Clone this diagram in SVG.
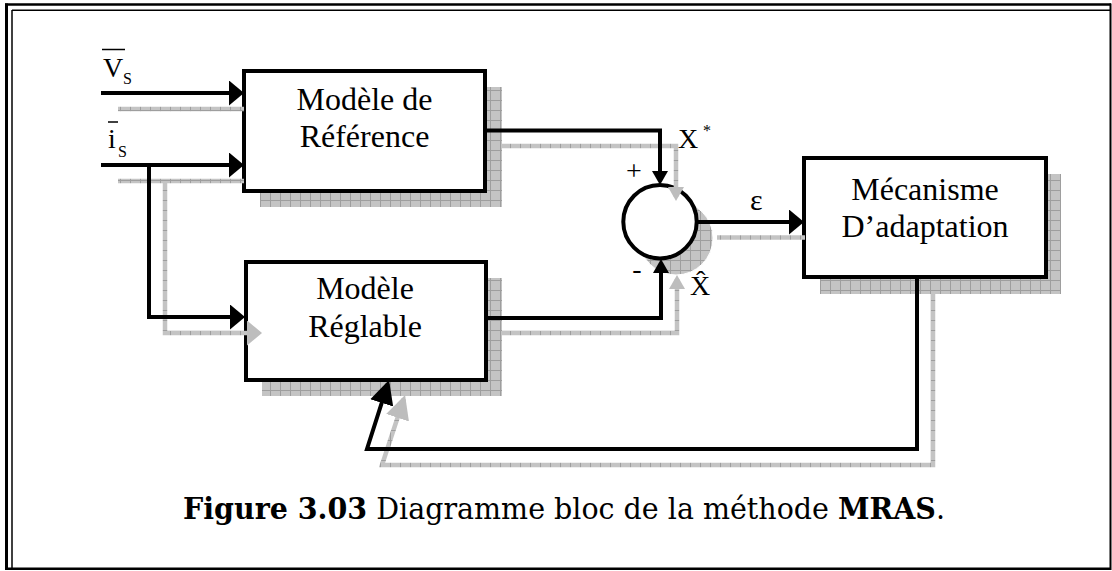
<svg xmlns="http://www.w3.org/2000/svg" width="1112" height="571" viewBox="0 0 1112 571">
<style>
.box{fill:#fff;stroke:#000;stroke-width:4}
.shadow{fill:url(#hatch)}
.lbl{font-family:"Liberation Serif","Times New Roman",serif;font-size:32px;fill:#000}
.sym{font-family:"Liberation Serif","Times New Roman",serif;fill:#000}
.blk{fill:none;stroke:#000;stroke-width:4;stroke-linejoin:miter}
.gry{fill:none;stroke:url(#hatch);stroke-width:4.5}
.cap{font-family:"DejaVu Serif",Georgia,serif;font-size:30px;fill:#000}
</style>
<defs>
<pattern id="hatch" patternUnits="userSpaceOnUse" width="10" height="10">
<rect width="10" height="10" fill="#c4c4c4"/>
<path d="M0,0.5 H10 M0.5,0 V10" stroke="#9e9e9e" stroke-width="1"/>
</pattern>
<marker id="ahL" markerUnits="userSpaceOnUse" viewBox="0 0 16 26" markerWidth="16" markerHeight="26" refX="11" refY="12.5" orient="auto"><path d="M0,0 L15,12.5 L0,25 Z" fill="#000"/></marker>
<marker id="ahS" markerUnits="userSpaceOnUse" viewBox="0 0 15 17" markerWidth="15" markerHeight="17" refX="10" refY="8" orient="auto"><path d="M0,0 L14,8 L0,16 Z" fill="#000"/></marker>
<marker id="ahF" markerUnits="userSpaceOnUse" viewBox="0 0 25 25" markerWidth="25" markerHeight="25" refX="20" refY="12" orient="auto"><path d="M0,0 L24,12 L0,24 Z" fill="#000"/></marker>
<marker id="ghL" markerUnits="userSpaceOnUse" viewBox="0 0 16 26" markerWidth="16" markerHeight="26" refX="11" refY="12.5" orient="auto"><path d="M0,0 L15,12.5 L0,25 Z" fill="#bdbdbd"/></marker>
<marker id="ghS" markerUnits="userSpaceOnUse" viewBox="0 0 15 17" markerWidth="15" markerHeight="17" refX="10" refY="8" orient="auto"><path d="M0,0 L14,8 L0,16 Z" fill="#bdbdbd"/></marker>
<marker id="ghF" markerUnits="userSpaceOnUse" viewBox="0 0 25 25" markerWidth="25" markerHeight="25" refX="20" refY="12" orient="auto"><path d="M0,0 L24,12 L0,24 Z" fill="#bdbdbd"/></marker>
</defs>
<rect width="1112" height="571" fill="#fff"/>
<g id="frame" fill="none" stroke="#000">
<path d="M5,4.5 H1111" stroke-width="2.5"/>
<path d="M6.5,3.5 V570" stroke-width="3"/>
<path d="M12,10.2 H1110" stroke-width="1.5"/>
<path d="M12,10 V568" stroke-width="1.5"/>
<path d="M1110.5,3.5 V570" stroke-width="2"/>
<path d="M5,568.8 H1111" stroke-width="2.5"/>
</g>
<g id="node-reference">
<rect class="shadow" x="260" y="87" width="242" height="120"/>
<rect class="box" x="244" y="71" width="241" height="120"/>
<text class="lbl" x="364.5" y="110" text-anchor="middle">Modèle de</text>
<text class="lbl" x="364.5" y="147" text-anchor="middle">Référence</text>
</g>
<g id="node-reglable">
<rect class="shadow" x="262" y="278" width="240" height="118"/>
<rect class="box" x="246" y="262" width="240" height="118"/>
<text class="lbl" x="365" y="299" text-anchor="middle">Modèle</text>
<text class="lbl" x="365" y="337" text-anchor="middle">Réglable</text>
</g>
<g id="node-sum">
<circle class="shadow" cx="676" cy="238" r="37" stroke="#fff" stroke-width="1"/>
<circle class="box" cx="660" cy="221.7" r="36.7"/>
<text class="sym" x="634" y="180" font-size="28" text-anchor="middle">+</text>
<text class="sym" x="637" y="278" font-size="28" text-anchor="middle">-</text>
</g>
<g id="node-adaptation">
<rect class="shadow" x="820" y="174" width="241" height="120"/>
<rect class="box" x="804" y="158" width="242" height="119"/>
<text class="lbl" x="925" y="200" text-anchor="middle">Mécanisme</text>
<text class="lbl" x="925" y="237" text-anchor="middle">D’adaptation</text>
</g>
<g id="connectors">
<path class="gry" d="M118,109 H244"/>
<path class="gry" d="M118,181 H244"/>
<path class="gry" d="M165,181 V333 H258" marker-end="url(#ghL)"/>
<path class="gry" d="M502,146 H676 V197" marker-end="url(#ghS)"/>
<path class="gry" d="M502,333 H677 V279" marker-end="url(#ghS)"/>
<path class="gry" d="M717,237.5 H805"/>
<path class="gry" d="M933,294 V465 H382 L403.8,398.8" marker-end="url(#ghF)"/>
<path class="blk" d="M101,93 H240" marker-end="url(#ahL)"/>
<path class="blk" d="M101,165 H240" marker-end="url(#ahL)"/>
<path class="blk" d="M149,165 V317 H241" marker-end="url(#ahL)"/>
<path class="blk" d="M485,130.5 H660 V181" marker-end="url(#ahS)"/>
<path class="blk" d="M486,318 H661 V263" marker-end="url(#ahS)"/>
<path class="blk" d="M697,222 H800" marker-end="url(#ahL)"/>
<path class="blk" d="M917,279 V449 H367 L387.8,383.8" marker-end="url(#ahF)"/>
</g>
<g id="labels">
<text class="sym" x="103" y="77" font-size="28">V</text>
<path d="M102,49.5 H125" stroke="#000" stroke-width="1.5"/>
<text class="sym" x="123" y="84" font-size="16">S</text>
<text class="sym" x="108" y="148" font-size="28">i</text>
<path d="M108,122 H118" stroke="#000" stroke-width="1.5"/>
<text class="sym" x="118" y="157" font-size="16">S</text>
<text class="sym" x="678" y="148" font-size="28">X</text>
<text class="sym" x="703" y="136" font-size="16">*</text>
<text class="sym" x="690" y="295" font-size="28">X̂</text>
<text class="sym" x="750" y="210" font-size="30">ε</text>
</g>
<g id="caption">
<text class="cap" x="183" y="519" textLength="762" lengthAdjust="spacingAndGlyphs"><tspan font-weight="bold">Figure 3.03</tspan>  Diagramme bloc de la méthode <tspan font-weight="bold">MRAS</tspan>.</text>
</g>
</svg>
